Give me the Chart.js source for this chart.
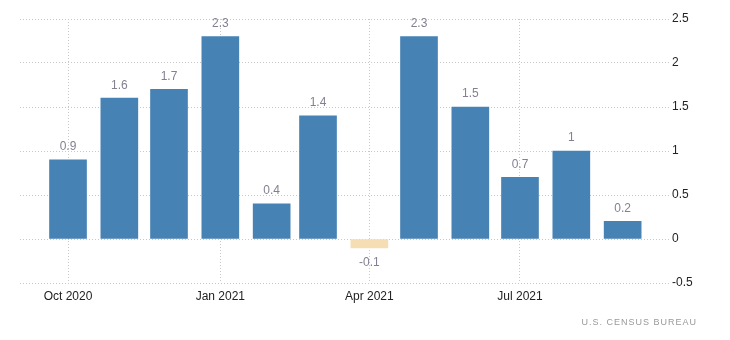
<!DOCTYPE html>
<html>
<head>
<meta charset="utf-8">
<script src="https://cdn.jsdelivr.net/npm/chart.js@4"></script>
<style>
  body { margin: 0; background: #fff; }
  #wrap { position: relative; width: 730px; height: 340px; }
  #source {
    position: absolute; right: 33px; top: 317px;
    font: 9px 'Liberation Sans', Arial, sans-serif;
    letter-spacing: 1px; color: #999;
  }
</style>
</head>
<body>
<div id="wrap">
  <canvas id="chart" width="730" height="340"></canvas>
  <div id="source">U.S. CENSUS BUREAU</div>
</div>
<script>
const months = ['2020-10-01', '2020-11-01', '2020-12-01', '2021-01-01', '2021-02-01', '2021-03-01',
                '2021-04-01', '2021-05-01', '2021-06-01', '2021-07-01', '2021-08-01', '2021-09-01'];
const values = [0.9, 1.6, 1.7, 2.3, 0.4, 1.4, -0.1, 2.3, 1.5, 0.7, 1, 0.2];
const tickDates = ['2020-10-01', '2021-01-01', '2021-04-01', '2021-07-01'];
const tickLabels = ['Oct 2020', 'Jan 2021', 'Apr 2021', 'Jul 2021'];
const yTicks = [-0.5, 0, 0.5, 1, 1.5, 2, 2.5];

const FONT = "'Liberation Sans', Arial, sans-serif";
const DAY = 86400000;
const start = Date.parse(months[0]);
const dayOf = d => Math.round((Date.parse(d) - start) / DAY); // x = days since first month

const gridStyle = {
  color: '#c8c8c8',
  lineWidth: 1,
  drawTicks: false
};

// value labels above / below each bar
const barLabels = {
  id: 'barLabels',
  afterDatasetsDraw(chart) {
    const ctx = chart.ctx;
    const meta = chart.getDatasetMeta(0);
    ctx.save();
    ctx.font = '12px ' + FONT;
    ctx.fillStyle = '#857f92';
    ctx.textAlign = 'center';
    ctx.textBaseline = 'middle';
    meta.data.forEach((bar, i) => {
      const v = values[i];
      const y = v < 0 ? bar.y + 15 : bar.y - 13;
      ctx.fillText(String(v), bar.x, y);
    });
    ctx.restore();
  }
};

new Chart(document.getElementById('chart'), {
  type: 'bar',
  data: {
    datasets: [{
      data: values.map((v, i) => ({ x: dayOf(months[i]), y: v })),
      backgroundColor: values.map(v => v < 0 ? '#f5deb3' : '#4682b4'),
      borderWidth: 0,
      barThickness: 37
    }]
  },
  options: {
    responsive: false,
    animation: false,
    layout: { padding: { left: 20, top: 19, right: 0, bottom: 0 } },
    scales: {
      x: {
        type: 'linear',
        offset: false,
        min: -29,
        max: 363,
        afterBuildTicks: s => { s.ticks = tickDates.map(d => ({ value: dayOf(d) })); },
        afterFit: s => { s.height = 57; },
        ticks: {
          padding: 6,
          autoSkip: false,
          maxRotation: 0,
          color: '#222',
          font: { family: FONT, size: 12 },
          callback: (v, i) => tickLabels[i]
        },
        grid: { ...gridStyle, offset: false },
        border: { display: false, dash: [1, 2] }
      },
      y: {
        position: 'right',
        min: -0.5,
        max: 2.5,
        afterBuildTicks: s => { s.ticks = yTicks.map(v => ({ value: v })); },
        afterFit: s => { s.width = 61; },
        ticks: {
          padding: 3,
          color: '#222',
          font: { family: FONT, size: 12 },
          callback: v => String(v)
        },
        grid: { ...gridStyle },
        border: { display: false, dash: [1, 2] }
      }
    },
    plugins: {
      legend: { display: false },
      tooltip: { enabled: false }
    }
  },
  plugins: [barLabels]
});
</script>
</body>
</html>
